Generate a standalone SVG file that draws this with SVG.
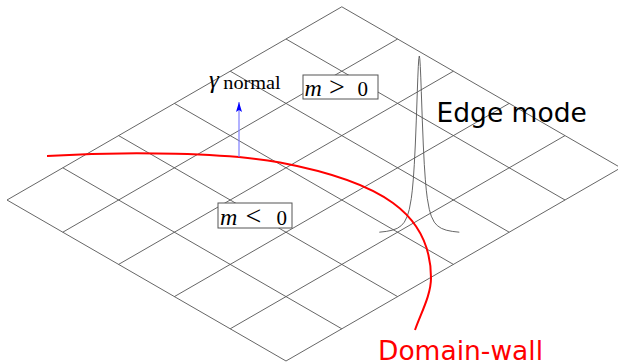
<svg xmlns="http://www.w3.org/2000/svg" width="618" height="364" viewBox="0 0 618 364">
<style>
.grid line{stroke:#555;stroke-width:0.9;fill:none}
.wall{stroke:#ff0000;stroke-width:2;fill:none}
.edge{stroke:#555;stroke-width:0.9;fill:none;stroke-linejoin:round}
.box{fill:#fff;stroke:#555;stroke-width:1}
.math{font-family:"Liberation Serif","DejaVu Serif",serif;fill:#000}
.sans{font-family:"DejaVu Sans",sans-serif;font-size:26.5px}
</style>
<defs>
<marker id="ah" viewBox="0 0 10 6" refX="10" refY="3" markerWidth="10" markerHeight="6" markerUnits="userSpaceOnUse" orient="auto">
<path d="M0,0 L10,3 L0,6 L2,3 Z" fill="#0000ff"/>
</marker>
</defs>
<g id="grid" class="grid">
<line x1="7" y1="200" x2="286" y2="361"/>
<line x1="62.8" y1="167.8" x2="341.8" y2="328.8"/>
<line x1="118.6" y1="135.6" x2="397.6" y2="296.6"/>
<line x1="174.4" y1="103.4" x2="453.4" y2="264.4"/>
<line x1="230.2" y1="71.2" x2="509.2" y2="232.2"/>
<line x1="286" y1="39" x2="565" y2="200"/>
<line x1="341.8" y1="6.8" x2="620.8" y2="167.8"/>
<line x1="7" y1="200" x2="341.8" y2="6.8"/>
<line x1="62.8" y1="232.2" x2="397.6" y2="39"/>
<line x1="118.6" y1="264.4" x2="453.4" y2="71.2"/>
<line x1="174.4" y1="296.6" x2="509.2" y2="103.4"/>
<line x1="230.2" y1="328.8" x2="565" y2="135.6"/>
<line x1="286" y1="361" x2="620.8" y2="167.8"/>
</g>
<g id="edge-mode-curve">
<polyline class="edge" points="379.3,232.2 386.3,231.4 392.3,230.2 397.3,228.3 401.3,225.6 404.3,222.2 407.3,216.2 409.3,209.4 411.3,198.4 412.3,190.2 413.3,179.2 414.3,164.5 415.3,145 416.3,120.1 416.8,106 417.3,91.6 417.8,77.9 418.3,66.5 418.8,58.7 419.3,56 419.8,58.7 420.3,66.5 420.8,77.9 421.3,91.6 421.8,106 422.3,120.1 423.3,145 424.3,164.5 425.3,179.2 426.3,190.2 427.3,198.4 429.3,209.4 431.3,216.2 434.3,222.2 437.3,225.6 441.3,228.3 446.3,230.2 452.3,231.4 459.3,232.2"/>
</g>
<g id="domain-wall-curve">
<path class="wall" d="M47,156 C130,151 230,153 280,162.5 C380,181.5 431,213 431,278 C431,295 421,313 415,330"/>
</g>
<g id="connectors">
<line x1="239" y1="157" x2="239" y2="102" stroke="#7f7fff" stroke-width="1.2" marker-end="url(#ah)"/>
</g>
<g id="gamma-label">
<text class="math" x="209" y="88" font-size="25" font-style="italic">γ</text>
<text class="math" x="223.3" y="89.3" font-size="18" textLength="57.4" lengthAdjust="spacingAndGlyphs">normal</text>
</g>
<g id="m-pos">
<rect class="box" x="303" y="75" width="75" height="24"/>
<text class="math" y="95.7"><tspan x="304.5" font-size="24" font-style="italic">m</tspan><tspan x="329" font-size="28">&gt;</tspan><tspan x="357.5" font-size="21">0</tspan></text>
</g>
<g id="m-neg">
<rect class="box" x="218" y="203" width="74" height="25"/>
<text class="math" y="225"><tspan x="220" font-size="24" font-style="italic">m</tspan><tspan x="245.5" font-size="28">&lt;</tspan><tspan x="276.5" font-size="21">0</tspan></text>
</g>
<g id="edge-mode-label">
<text class="sans" x="436.5" y="121.7" fill="#000">Edge mode</text>
</g>
<g id="domain-wall-label">
<text class="sans" x="378" y="359.5" fill="#ff0000">Domain-wall</text>
</g>
</svg>
